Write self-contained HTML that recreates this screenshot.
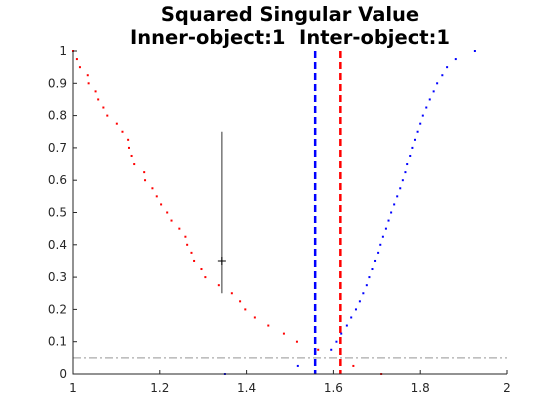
<!DOCTYPE html>
<html><head><meta charset="utf-8"><style>
body{margin:0;background:#fff;}
svg{display:block;font-family:"DejaVu Sans","Liberation Sans",sans-serif;}
</style></head><body>
<svg id="chart" width="560" height="420" xmlns="http://www.w3.org/2000/svg">
<text x="290" y="21" text-anchor="middle" font-size="19.5" font-weight="bold">Squared Singular Value</text>
<text x="290" y="44" text-anchor="middle" font-size="19.5" font-weight="bold" style="white-space:pre">Inner-object:1  Inter-object:1</text>
<g id="plot"></g>
</svg>
<script>
const redX=[1.0,1.009,1.016,1.034,1.036,1.052,1.058,1.070,1.079,1.101,1.114,1.127,1.129,1.135,1.141,1.164,1.166,1.183,1.193,1.203,1.217,1.227,1.245,1.259,1.263,1.273,1.279,1.296,1.305,1.336,1.366,1.385,1.397,1.419,1.450,1.486,1.516,1.565,1.646,1.710];
const redY=[1,0.975,0.95,0.925,0.9,0.875,0.85,0.825,0.8,0.775,0.75,0.725,0.7,0.675,0.65,0.625,0.6,0.575,0.55,0.525,0.5,0.475,0.45,0.425,0.4,0.375,0.35,0.325,0.3,0.275,0.25,0.225,0.2,0.175,0.15,0.125,0.1,0.075,0.025,0];
const blueX=[1.350,1.518,1.595,1.607,1.618,1.631,1.641,1.652,1.661,1.669,1.677,1.683,1.690,1.696,1.703,1.708,1.714,1.721,1.727,1.733,1.740,1.747,1.754,1.760,1.766,1.770,1.777,1.782,1.788,1.794,1.800,1.806,1.814,1.822,1.831,1.839,1.851,1.862,1.882,1.926];
const blueY=[0,0.025,0.075,0.1,0.125,0.15,0.175,0.2,0.225,0.25,0.275,0.3,0.325,0.35,0.375,0.4,0.425,0.45,0.475,0.5,0.525,0.55,0.575,0.6,0.625,0.65,0.675,0.7,0.725,0.75,0.775,0.8,0.825,0.85,0.875,0.9,0.925,0.95,0.975,1];
const blueVLine=1.558;
const redVLine=1.616;
const errX=1.343, errCenter=0.35, errLow=0.25, errHigh=0.75;
const threshold=0.05;
const xTicks=[1,1.2,1.4,1.6,1.8,2];
const xTickLabels=["1","1.2","1.4","1.6","1.8","2"];
const yTicks=[0,0.1,0.2,0.3,0.4,0.5,0.6,0.7,0.8,0.9,1];
const yTickLabels=["0","0.1","0.2","0.3","0.4","0.5","0.6","0.7","0.8","0.9","1"];

const X0=73,X1=507,Y0=374,Y1=51;
function sx(v){return X0+(v-1)/(2-1)*(X1-X0);}
function sy(v){return Y0-(v-0)/(1-0)*(Y0-Y1);}
const NS="http://www.w3.org/2000/svg";
const g=document.getElementById('plot');
function mk(tag,attrs){const e=document.createElementNS(NS,tag);for(const k in attrs)e.setAttribute(k,attrs[k]);g.appendChild(e);return e;}

let e;
e=mk('line',{x1:X0,y1:sy(threshold),x2:X1,y2:sy(threshold),stroke:'#aaa','stroke-width':1.2,'stroke-dasharray':'8,3,2,3'});


e=mk('line',{x1:sx(blueVLine),y1:Y1,x2:sx(blueVLine),y2:Y0,stroke:'#0000ff','stroke-width':2.5,'stroke-dasharray':'7,4'});


e=mk('line',{x1:sx(redVLine),y1:Y1,x2:sx(redVLine),y2:Y0,stroke:'#ff0000','stroke-width':2.5,'stroke-dasharray':'7,4'});


for(let i=0;i<redX.length;i++){
  e=mk('rect',{x:sx(redX[i])-1,y:sy(redY[i])-1,width:2,height:2,fill:'#ff0000'});
  
  
}
for(let i=0;i<blueX.length;i++){
  e=mk('rect',{x:sx(blueX[i])-1,y:sy(blueY[i])-1,width:2,height:2,fill:'#0000ff'});
  
  
}
e=mk('line',{x1:sx(errX),y1:sy(errLow),x2:sx(errX),y2:sy(errHigh),stroke:'#555','stroke-width':1.2});


e=mk('path',{d:`M${sx(errX)-4},${sy(errCenter)}h8M${sx(errX)},${sy(errCenter)-4}v8`,stroke:'#000','stroke-width':1});


e=mk('path',{d:`M${X0},${Y1}V${Y0}H${X1}`,fill:'none',stroke:'#262626','stroke-width':1});


for(let i=0;i<xTicks.length;i++){
  const x=sx(xTicks[i]);
  e=mk('line',{x1:x,y1:Y0,x2:x,y2:Y0-4,stroke:'#262626'});
  
  
  e=mk('text',{x:x,y:Y0+18,'text-anchor':'middle','font-size':12,fill:'#262626'});
  e.textContent=xTickLabels[i];
  
  
}
for(let i=0;i<yTicks.length;i++){
  const y=sy(yTicks[i]);
  e=mk('line',{x1:X0,y1:y,x2:X0+4,y2:y,stroke:'#262626'});
  
  
  e=mk('text',{x:X0-6,y:y+4,'text-anchor':'end','font-size':12,fill:'#262626'});
  e.textContent=yTickLabels[i];
  
  
}
</script>
</body></html>
